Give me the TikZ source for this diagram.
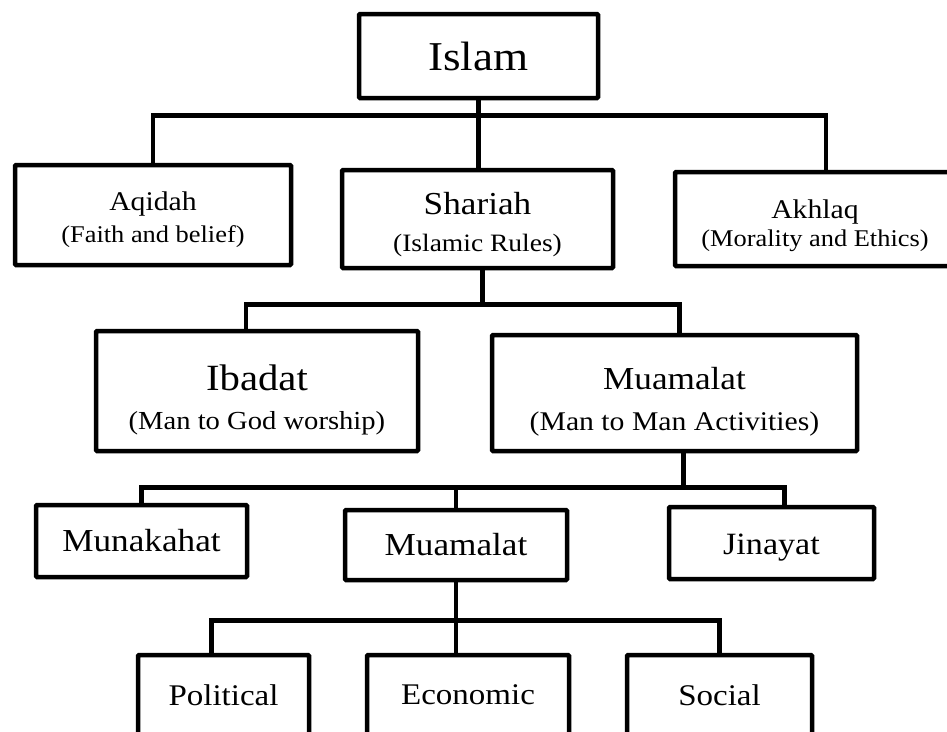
\documentclass[tikz,border=0pt]{standalone}
\usepackage{fontspec}
\setmainfont[FakeStretch=1.1]{Liberation Serif}
\tikzset{
  box/.style={draw, line width=4.5pt, rounded corners=1pt, align=center, inner sep=0pt},
  link/.style={line width=4.5pt},
}
\newcommand{\fsz}[1]{\fontsize{#1}{1.2\dimexpr#1pt\relax}\selectfont}

\begin{document}
\begin{tikzpicture}[x=1pt,y=-1pt]
				\useasboundingbox (0,0) rectangle (947,731);
				% level 0
				\node[box, minimum width=239, minimum height=84, font=\fsz{41}] (islam) at (478.5,56) {Islam};
				% level 1
				\node[box, minimum width=276, minimum height=100, font=\fsz{24}] (aqidah) at (153,215) {{\fsz{27}\rule{0pt}{28pt}Aqidah}\\[3pt](Faith and belief)};
				\node[box, minimum width=271, minimum height=98, font=\fsz{25}] (shariah) at (477.5,219) {{\fsz{32}\rule{0pt}{34pt}Shariah}\\[7pt](Islamic Rules)};
				\node[box, minimum width=280, minimum height=94, font=\fsz{24}] (akhlaq) at (815,219) {{\fsz{27}\rule{0pt}{32pt}Akhlaq}\\[-1pt](Morality and Ethics)};
				% level 2
				\node[box, minimum width=322, minimum height=120, font=\fsz{26}] (ibadat) at (257,391) {{\fsz{37}\rule{0pt}{44pt}Ibadat}\\[8pt](Man to God worship)};
				\node[box, minimum width=365, minimum height=116, font=\fsz{27}] (muamalat) at (674.5,393) {{\fsz{32}\rule{0pt}{40pt}Muamalat}\\[8pt](Man to Man Activities)};
				% level 3
				\node[box, minimum width=211, minimum height=72, font=\fsz{32}] (munakahat) at (141.5,541) {Munakahat};
				\node[box, minimum width=222, minimum height=70, font=\fsz{32}] (muamalatb) at (456,545) {Muamalat};
				\node[box, minimum width=205, minimum height=72, font=\fsz{31}] (jinayat) at (771.5,543) {\rule{0pt}{30pt}Jinayat};
				% level 4
				\node[box, minimum width=171, minimum height=80, font=\fsz{30}] (political) at (223.5,695) {Political};
				\node[box, minimum width=202, minimum height=80, font=\fsz{30}] (economic) at (468,695) {Economic};
				\node[box, minimum width=185, minimum height=80, font=\fsz{30}] (social) at (719.5,695) {Social};
				% connectors
				\draw[link] (islam.south) -- ++(0,15) coordinate (j1);
				\draw[link] (aqidah.north) |- (j1) -| ([xshift=11pt]akhlaq.north);
				\draw[link] (j1) -- (j1 |- shariah.north);
				\draw[link] ([xshift=5pt]shariah.south) -- ++(0,34) coordinate (j2);
				\draw[link] ([xshift=-11pt]ibadat.north) |- (j2) -| ([xshift=5pt]muamalat.north);
				\draw[link] ([xshift=9pt]muamalat.south) -- ++(0,34) coordinate (j3);
				\draw[link] (munakahat.north) |- (j3) -| ([xshift=13pt]jinayat.north);
				\draw[link] (j3 -| muamalatb.north) -- (muamalatb.north);
				\draw[link] (muamalatb.south) -- ++(0,38) coordinate (j4);
				\draw[link] ([xshift=-12pt]political.north) |- (j4) -| (social.north);
				\draw[link] (j4) -- (j4 |- economic.north);
			\end{tikzpicture}
\end{document}
